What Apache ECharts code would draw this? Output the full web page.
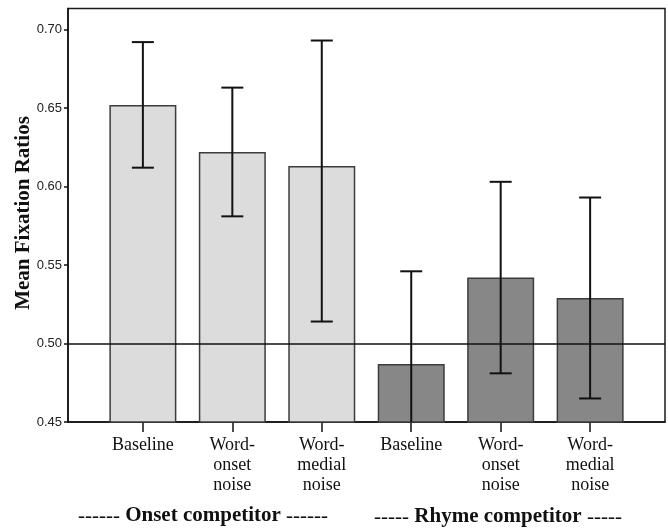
<!DOCTYPE html>
<html>
<head>
<meta charset="utf-8">
<script src="https://cdn.jsdelivr.net/npm/echarts@6/dist/echarts.min.js"></script>
<style>
  html, body { margin: 0; padding: 0; background: #fff; }
  #chart { width: 668px; height: 528px; }
</style>
</head>
<body>
<div id="chart"></div>
<script>
// Condition labels (x categories)
const categories = [
  'Baseline', 'Word-\nonset\nnoise', 'Word-\nmedial\nnoise',
  'Baseline', 'Word-\nonset\nnoise', 'Word-\nmedial\nnoise'
];
// Mean fixation ratios per condition
const means = [0.652, 0.622, 0.613, 0.487, 0.542, 0.529];
// 95% CI bounds
const ciUpper = [0.692, 0.663, 0.693, 0.546, 0.603, 0.593];
const ciLower = [0.612, 0.581, 0.514, 0.428, 0.481, 0.465];
// Competitor group of each bar: 0 = onset, 1 = rhyme
const groups = [0, 0, 0, 1, 1, 1];
// Y tick values
const yTicks = [0.45, 0.50, 0.55, 0.60, 0.65, 0.70];
const chanceLevel = 0.50;

const groupColors = ['#dcdcdc', '#878787'];
const serif = '"Liberation Serif", "Times New Roman", serif';
const sans = '"Liberation Sans", Arial, sans-serif';

const idx = categories.map((_, i) => i);

const chart = echarts.init(document.getElementById('chart'), null, { renderer: 'canvas' });

chart.setOption({
  animation: false,
  backgroundColor: '#ffffff',
  grid: {
    left: 68, right: 3, top: 8.5, bottom: 106,
    show: true, borderColor: '#1a1a1a', borderWidth: 1.5, backgroundColor: 'transparent'
  },
  xAxis: {
    type: 'value',
    min: -0.837, max: 5.837,
    splitLine: { show: false },
    axisLine: { show: true, onZero: false, lineStyle: { color: '#111', width: 1.5 } },
    axisTick: { show: true, customValues: idx, length: 10, lineStyle: { color: '#111', width: 1.5 } },
    axisLabel: {
      show: true, customValues: idx,
      formatter: v => categories[Math.round(v)],
      fontFamily: serif, fontSize: 18, lineHeight: 20, color: '#111', margin: 13
    }
  },
  yAxis: {
    type: 'value',
    min: 0.45, max: 0.7134,
    splitLine: { show: false },
    axisLine: { show: true, onZero: false, lineStyle: { color: '#111', width: 1.5 } },
    axisTick: { show: true, customValues: yTicks, length: 4, lineStyle: { color: '#111', width: 1.5 } },
    axisLabel: {
      show: true, customValues: yTicks,
      formatter: v => v.toFixed(2),
      fontFamily: sans, fontSize: 13, color: '#222', margin: 6
    }
  },
  series: [
    {
      type: 'bar',
      barWidth: 67,
      data: means.map((m, i) => ({
        value: [i, m],
        itemStyle: { color: groupColors[groups[i]] }
      })),
      itemStyle: { borderColor: '#3c3c3c', borderWidth: 1.5 },
      markLine: {
        silent: true,
        symbol: 'none',
        label: { show: false },
        lineStyle: { color: '#111', width: 1.5, type: 'solid' },
        data: [{ yAxis: chanceLevel }]
      },
      z: 2
    },
    {
      type: 'custom',
      z: 10,
      data: idx.map(i => [i, ciUpper[i], ciLower[i]]),
      renderItem: function (params, api) {
        const x = api.value(0);
        const hi = api.coord([x, api.value(1)]);
        const lo = api.coord([x, api.value(2)]);
        const cs = params.coordSys;
        const bottom = cs.y + cs.height;
        const capHalf = 11;
        const style = { stroke: '#111', lineWidth: 2 };
        const children = [];
        const loClamped = lo[1] > bottom;
        const loY = loClamped ? bottom : lo[1];
        children.push({ type: 'line', shape: { x1: hi[0], y1: hi[1], x2: hi[0], y2: loY }, style });
        children.push({ type: 'line', shape: { x1: hi[0] - capHalf, y1: hi[1], x2: hi[0] + capHalf, y2: hi[1] }, style });
        if (!loClamped) {
          children.push({ type: 'line', shape: { x1: lo[0] - capHalf, y1: lo[1], x2: lo[0] + capHalf, y2: lo[1] }, style });
        }
        return { type: 'group', children };
      }
    }
  ],
  graphic: [
    {
      type: 'text',
      x: 24, y: 213,
      rotation: Math.PI / 2,
      style: {
        text: 'Mean Fixation Ratios',
        font: 'bold 21px ' + serif,
        fill: '#111',
        align: 'center', verticalAlign: 'middle'
      }
    },
    {
      type: 'text',
      x: 203, y: 516,
      style: {
        text: '{d|------ }{b|Onset competitor}{d| ------}',
        align: 'center', verticalAlign: 'middle',
        rich: {
          d: { fontFamily: serif, fontSize: 21, fill: '#111', fontWeight: 'normal' },
          b: { fontFamily: serif, fontSize: 21, fill: '#111', fontWeight: 'bold' }
        }
      }
    },
    {
      type: 'text',
      x: 498, y: 517,
      style: {
        text: '{d|----- }{b|Rhyme competitor}{d| -----}',
        align: 'center', verticalAlign: 'middle',
        rich: {
          d: { fontFamily: serif, fontSize: 21, fill: '#111', fontWeight: 'normal' },
          b: { fontFamily: serif, fontSize: 21, fill: '#111', fontWeight: 'bold' }
        }
      }
    }
  ]
});
</script>
</body>
</html>
